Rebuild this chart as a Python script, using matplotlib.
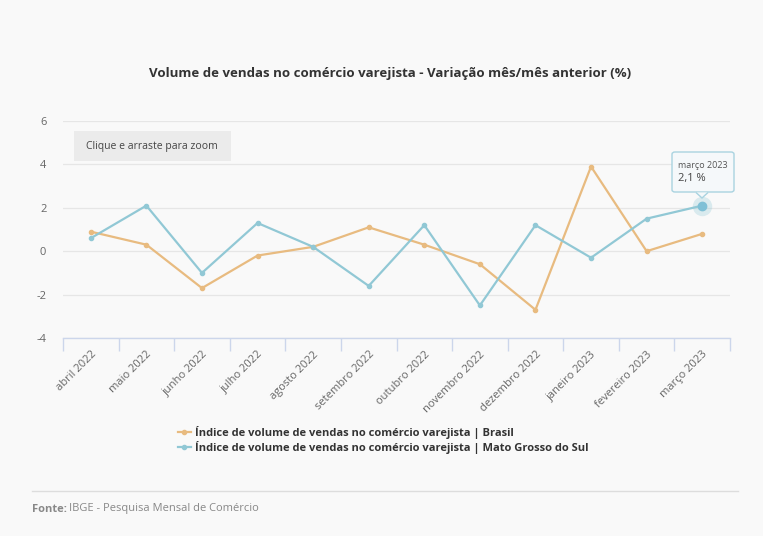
import numpy as np
import matplotlib.pyplot as plt
from matplotlib.patches import FancyBboxPatch, Polygon

plt.rcParams['font.family'] = ['Open Sans', 'DejaVu Sans']

# data
meses = ["abril 2022", "maio 2022", "junho 2022", "julho 2022", "agosto 2022",
         "setembro 2022", "outubro 2022", "novembro 2022", "dezembro 2022",
         "janeiro 2023", "fevereiro 2023", "março 2023"]
brasil = [0.9, 0.3, -1.7, -0.2, 0.2, 1.1, 0.3, -0.6, -2.7, 3.9, 0.0, 0.8]
ms = [0.6, 2.1, -1.0, 1.3, 0.2, -1.6, 1.2, -2.5, 1.2, -0.3, 1.5, 2.1]
y_ticks = [-4, -2, 0, 2, 4, 6]

c_br = "#E8BB80"
c_ms = "#91C8D5"
bg = "#F9F9F9"

fig = plt.figure(figsize=(7.63, 5.36), dpi=100, facecolor=bg)
ax = fig.add_axes([63 / 763, 1 - 338 / 536, (730 - 63) / 763, (338 - 121) / 536])
ax.set_facecolor(bg)

x = np.arange(len(meses))
ax.plot(x, brasil, color=c_br, lw=1.6, marker="o", ms=3, zorder=3,
        label="Índice de volume de vendas no comércio varejista | Brasil")
ax.plot(x, ms, color=c_ms, lw=1.6, marker="o", ms=3, zorder=3,
        label="Índice de volume de vendas no comércio varejista | Mato Grosso do Sul")

# highlighted point
ax.plot(x[-1], ms[-1], "o", ms=14, color=c_ms, alpha=0.3, zorder=4, mec="none")
ax.plot(x[-1], ms[-1], "o", ms=6, color="#7FC0D6", zorder=5)

ax.set_xlim(-0.5, len(meses) - 0.5)
ax.set_ylim(-4, 6)
ax.set_yticks(y_ticks)
ax.set_yticklabels([str(v) for v in y_ticks], fontsize=8, color="#666666")
ax.tick_params(axis="y", length=0, pad=12)
ax.grid(axis="y", color="#E6E6E6", lw=0.9, zorder=0)

ax.set_xticks(x)
ax.set_xticklabels(meses, rotation=45, ha="right", rotation_mode="anchor",
                   fontsize=8, color="#666666")
ax.tick_params(axis="x", length=0, pad=8)
ax.set_xticks(np.arange(-0.5, len(meses), 1), minor=True)
ax.tick_params(axis="x", which="minor", length=9, color="#CCD6EB", width=1)

for s in ["top", "right", "left"]:
    ax.spines[s].set_visible(False)
ax.spines["bottom"].set_color("#CCD6EB")
ax.spines["bottom"].set_linewidth(1)

# title
fig.text(390 / 763, 1 - 73 / 536,
         "Volume de vendas no comércio varejista - Variação mês/mês anterior (%)",
         ha="center", va="center", fontsize=9.5, fontweight="bold", color="#333333")

# zoom button
btn = FancyBboxPatch((74 / 763, 1 - 161 / 536), (231 - 74) / 763, 30 / 536,
                     boxstyle="square,pad=0", transform=fig.transFigure,
                     facecolor="#EBEBEB", edgecolor="none")
fig.patches.append(btn)
fig.text(152 / 763, 1 - 146 / 536, "Clique e arraste para zoom", ha="center",
         va="center", fontsize=7.5, color="#444444")

# tooltip
tip = FancyBboxPatch((672 / 763, 1 - 192 / 536), 62 / 763, 40 / 536,
                     boxstyle="round,pad=0,rounding_size=0.004",
                     transform=fig.transFigure, facecolor="#F5F8FA",
                     edgecolor="#A9D3E0", lw=1, zorder=10)
fig.patches.append(tip)
arrow = Polygon([[696 / 763, 1 - 192.5 / 536], [702 / 763, 1 - 198 / 536],
                 [708 / 763, 1 - 192.5 / 536]], closed=False,
                transform=fig.transFigure, facecolor="#F5F8FA",
                edgecolor="#A9D3E0", lw=1, zorder=11)
fig.patches.append(arrow)
fig.text(678 / 763, 1 - 166 / 536, "março 2023", fontsize=6.5, color="#555555",
         va="center", zorder=12)
fig.text(678 / 763, 1 - 179 / 536, "2,1 %", fontsize=8, color="#444444",
         va="center", zorder=12)

# legend
leg = fig.legend(loc="upper left", bbox_to_anchor=(172 / 763, 1 - 420 / 536),
                 frameon=False, fontsize=8, handlelength=1.2, handletextpad=0.4,
                 labelspacing=0.25, borderpad=0)
for t in leg.get_texts():
    t.set_fontweight("bold")
    t.set_color("#333333")
for h in leg.legend_handles:
    h.set_markersize(3)

# footer
fig.add_artist(plt.Line2D([32 / 763, 738 / 763], [1 - 491 / 536] * 2,
                          color="#DDDDDD", lw=1, transform=fig.transFigure))
fig.text(32 / 763, 1 - 509 / 536, "Fonte:", fontsize=8, fontweight="bold",
         color="#888888", va="center")
fig.text(69 / 763, 1 - 509 / 536, "IBGE - Pesquisa Mensal de Comércio",
         fontsize=8, color="#888888", va="center")

fig.savefig("out.png", dpi=100, facecolor=bg)
